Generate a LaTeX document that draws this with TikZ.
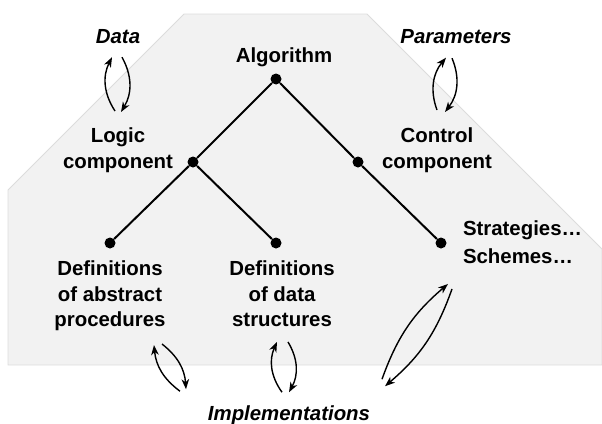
\documentclass[tikz,border=0pt]{standalone}
\usepackage{fontspec}
\setmainfont{Liberation Sans}
\usepackage{tikz}
\usetikzlibrary{calc,arrows.meta,positioning}
\definecolor{panelGray}{RGB}{242,242,242}
\definecolor{panelEdge}{RGB}{220,220,220}

\begin{document}
\begin{tikzpicture}[x=1pt, y=-1pt,
  txt/.style={inner sep=0pt, outer sep=0pt, font=\bfseries\fontsize{20.4}{25.5}\selectfont, align=center},
  inputtxt/.style={txt, font=\bfseries\itshape\fontsize{20.4}{25.5}\selectfont},
  dot/.style={circle, fill=black, inner sep=0pt, minimum size=11pt},
  branch/.style={line width=2pt},
  flow/.style={line width=1.4pt, -{Stealth[length=10pt, width=7.5pt, inset=3pt]}, bend left=#1},
  flow/.default=25]
\useasboundingbox (0,0) rectangle (602,423);
% background panel
\filldraw[fill=panelGray, draw=panelEdge, line width=0.8pt]
  (184,14) -- (367,14) -- (602,249) -- (602,365) -- (8,365) -- (8,190) -- cycle;

% texts
\node[inputtxt, anchor=base] (data) at (118,43.5) {Data};
\node[inputtxt, anchor=base] (params) at (456,43.5) {Parameters};
\node[txt, anchor=base] (algo) at (284,62) {Algorithm};
\node[txt, anchor=north] (logic) at (118,128) {Logic\\component};
\node[txt, anchor=north] (control) at (437,128) {Control\\component};
\node[txt, anchor=north] (abstract) at (110,261) {Definitions\\of abstract\\procedures};
\node[txt, anchor=north] (structs) at (282,261) {Definitions\\of data\\structures};
\node[txt, anchor=north west, align=left] (strat) at (463,221) {Strategies…\\[2.5pt]Schemes…};
\node[inputtxt, anchor=base] (impl) at (289,420) {Implementations};

% tree
\node[dot] (algodot) at (276,79) {};
\node[dot] (logicdot) at (193,162) {};
\node[dot] (controldot) at (358,162) {};
\node[dot] (abstractdot) at (110,243) {};
\node[dot] (structsdot) at (276,243) {};
\node[dot] (stratdot) at (441,243) {};
\draw[branch] (algodot) -- (logicdot) -- (abstractdot);
\draw[branch] (logicdot) -- (structsdot);
\draw[branch] (algodot) -- (controldot) -- (stratdot);

% exchanges
\draw[flow=30] ($(logic.north)+(-3,-17)$) to ($(data.south)+(-6,13.5)$);
\draw[flow=30] ($(data.south)+(4,13.5)$) to ($(logic.north)+(3,-16)$);
\draw[flow=30] ($(control.north)+(0,-18)$) to ($(params.south)+(-10,14)$);
\draw[flow=30] ($(params.south)+(-4,14.5)$) to ($(control.north)+(8,-16)$);
\draw[flow=24] ($(impl.north)+(-109,-14)$) to ($(abstract.south)+(44,14)$);
\draw[flow=24] ($(abstract.south)+(52,13)$) to ($(impl.north)+(-103,-16)$);
\draw[flow=30] ($(impl.north)+(-7,-13)$) to ($(structs.south)+(-5,15)$);
\draw[flow=30] ($(structs.south)+(6,15)$) to ($(impl.north)+(0,-13)$);
\draw[flow=15] ($(impl.north)+(93,-26)$) to ($(strat.south west)+(-15,20)$);
\draw[flow=15] ($(strat.south west)+(-11,25)$) to ($(impl.north)+(96,-19)$);
\end{tikzpicture}
\end{document}
